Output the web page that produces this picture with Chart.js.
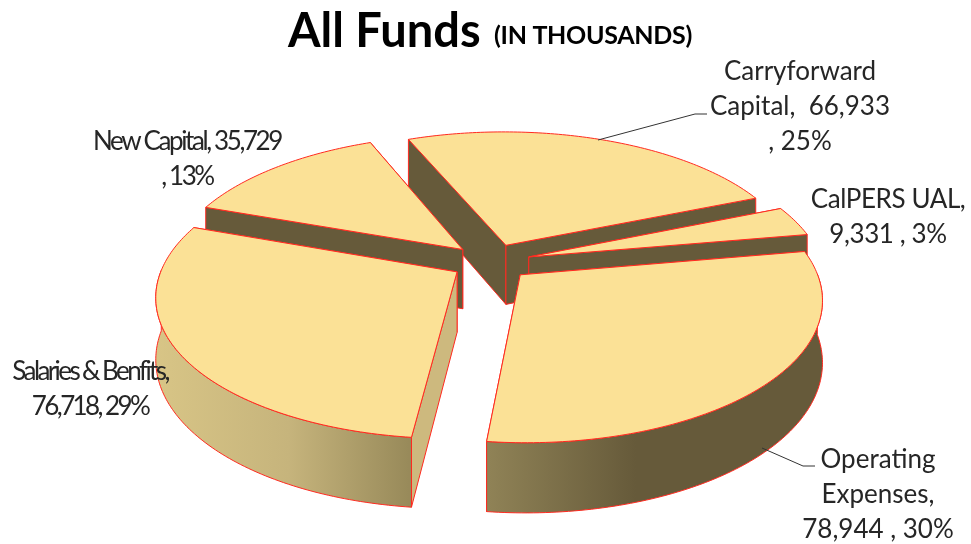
<!DOCTYPE html>
<html>
<head>
<meta charset="utf-8">
<title>All Funds</title>
<script src="https://cdn.jsdelivr.net/npm/chart.js@4/dist/chart.umd.min.js"></script>
<style>
  html, body { margin: 0; padding: 0; background: #fff; }
  #wrap { position: relative; width: 971px; height: 544px; }
</style>
</head>
<body>
<div id="wrap"><canvas id="c" width="971" height="544"></canvas></div>
<script>
// Budget split, in thousands
const categories = ["Carryforward Capital", "CalPERS UAL", "Operating Expenses", "Salaries & Benfits", "New Capital"];
const amounts = [66933, 9331, 78944, 76718, 35729];
const firstSliceRotation = -22.4;

// Slice label text, line by line
const labelLines = [
  ["Carryforward", "Capital,  66,933", ", 25%"],
  ["CalPERS UAL,", "9,331 , 3%"],
  ["Operating", "Expenses,", "78,944 , 30%"],
  ["Salaries & Benfits,", "76,718, 29%"],
  ["New Capital, 35,729", ", 13%"]
];
const labelCentres = [[800, 72], [888, 200], [878, 460], [90, 372], [187, 142]];
const labelSpacing = [0, -0.4, 0, -2.6, -2.4];
const leaderLines = [
  [[598, 140], [695, 114], [707, 114]],
  [[762, 448], [803, 466], [815, 466]]
];

// Look of the tilted, exploded pie
const view = { cx: 491, cy: 262, rx: 293, ry: 136.5, height: 60, explode: 0.135, persp: 0.16, depthPersp: 0.8 };
const topColor = "#FBE196";
const edgeColor = "#FF2A20";
const cutWallColors = ["#665A3A", "#665A3A", "#665A3A", "#CDB97E", "#665A3A"];

function project(x, y, z) {
  const w = 1 / (1 - view.persp * y);
  const drop = z * view.height * (1 + (w - 1) * view.depthPersp);
  return [view.cx + x * view.rx * w, view.cy + y * view.ry * w + drop];
}

function tracePolygon(ctx, pts) {
  ctx.beginPath();
  pts.forEach((p, i) => i ? ctx.lineTo(p[0], p[1]) : ctx.moveTo(p[0], p[1]));
  ctx.closePath();
}

function paint(ctx, pts, fill) {
  tracePolygon(ctx, pts);
  ctx.fillStyle = fill;
  ctx.fill();
  ctx.strokeStyle = edgeColor;
  ctx.lineWidth = 1;
  ctx.lineJoin = "round";
  ctx.stroke();
}

// Turns the library's arc elements into extruded, perspective wedges
const extrudedPie = {
  id: "extrudedPie",
  afterDatasetsDraw(chart) {
    const ctx = chart.ctx;
    const arcs = chart.getDatasetMeta(0).data;
    const sideShade = ctx.createLinearGradient(155, 0, 823, 0);
    sideShade.addColorStop(0, "#D8C586");
    sideShade.addColorStop(0.2, "#C6B47C");
    sideShade.addColorStop(0.38, "#988A5A");
    sideShade.addColorStop(0.5, "#8F8256");
    sideShade.addColorStop(0.72, "#665A3A");
    sideShade.addColorStop(1, "#665A3A");

    const wedges = arcs.map((arc, i) => {
      const mid = (arc.startAngle + arc.endAngle) / 2;
      const ox = view.explode * Math.cos(mid);
      const oy = view.explode * Math.sin(mid);
      const steps = Math.max(4, Math.ceil((arc.endAngle - arc.startAngle) * 60));
      const rim = [];
      const frontRim = [];
      for (let s = 0; s <= steps; s++) {
        const a = arc.startAngle + (arc.endAngle - arc.startAngle) * s / steps;
        const p = [ox + Math.cos(a), oy + Math.sin(a)];
        rim.push(p);
        // Only the part of the rim facing the viewer gets an outer wall
        if (Math.sin(a) > -0.02) frontRim.push(p);
      }
      return { i, ox, oy, rim, frontRim, depth: oy };
    });

    // Back slices first so nearer ones cover them
    wedges.sort((a, b) => a.depth - b.depth);
    wedges.forEach(w => {
      const apexTop = project(w.ox, w.oy, 0);
      const apexBot = project(w.ox, w.oy, 1);
      const rimTop = w.rim.map(p => project(p[0], p[1], 0));
      const rimBot = w.rim.map(p => project(p[0], p[1], 1));
      const last = rimTop.length - 1;
      // The cut face reaching nearer the viewer goes on top of the other one
      const faces = [0, last].sort((a, b) => rimTop[a][1] - rimTop[b][1]);
      faces.forEach(k => paint(ctx, [apexTop, rimTop[k], rimBot[k], apexBot], cutWallColors[w.i]));
      if (w.frontRim.length > 1) {
        const frontTop = w.frontRim.map(p => project(p[0], p[1], 0));
        const frontBot = w.frontRim.map(p => project(p[0], p[1], 1));
        paint(ctx, frontTop.concat(frontBot.reverse()), sideShade);
      }
      paint(ctx, [apexTop].concat(rimTop), topColor);
    });

    // Leader lines
    ctx.strokeStyle = "#333";
    ctx.lineWidth = 1;
    leaderLines.forEach(l => {
      ctx.beginPath();
      l.forEach((p, i) => i ? ctx.lineTo(p[0], p[1]) : ctx.moveTo(p[0], p[1]));
      ctx.stroke();
    });

    // Slice labels
    ctx.fillStyle = "#262626";
    ctx.textAlign = "center";
    ctx.textBaseline = "middle";
    labelLines.forEach((lines, i) => {
      ctx.font = '26px Lato, "Open Sans", sans-serif';
      ctx.letterSpacing = labelSpacing[i] + "px";
      lines.forEach((t, n) => ctx.fillText(t, labelCentres[i][0], labelCentres[i][1] + n * 34.7));
    });
    ctx.letterSpacing = "0px";

    // Heading
    ctx.fillStyle = "#000";
    ctx.textAlign = "left";
    ctx.font = 'bold 47px Lato, sans-serif';
    ctx.fillText("All Funds", 288, 32);
    ctx.font = 'bold 25px Lato, sans-serif';
    ctx.letterSpacing = "-0.3px";
    ctx.fillText("(IN THOUSANDS)", 494, 36);
    ctx.letterSpacing = "0px";
  }
};

new Chart(document.getElementById("c"), {
  type: "pie",
  data: {
    labels: categories,
    datasets: [{ data: amounts, backgroundColor: "rgba(0,0,0,0)", borderWidth: 0 }]
  },
  options: {
    responsive: false,
    animation: false,
    rotation: firstSliceRotation,
    plugins: { legend: { display: false }, tooltip: { enabled: false }, title: { display: false } }
  },
  plugins: [extrudedPie]
});
</script>
</body>
</html>
